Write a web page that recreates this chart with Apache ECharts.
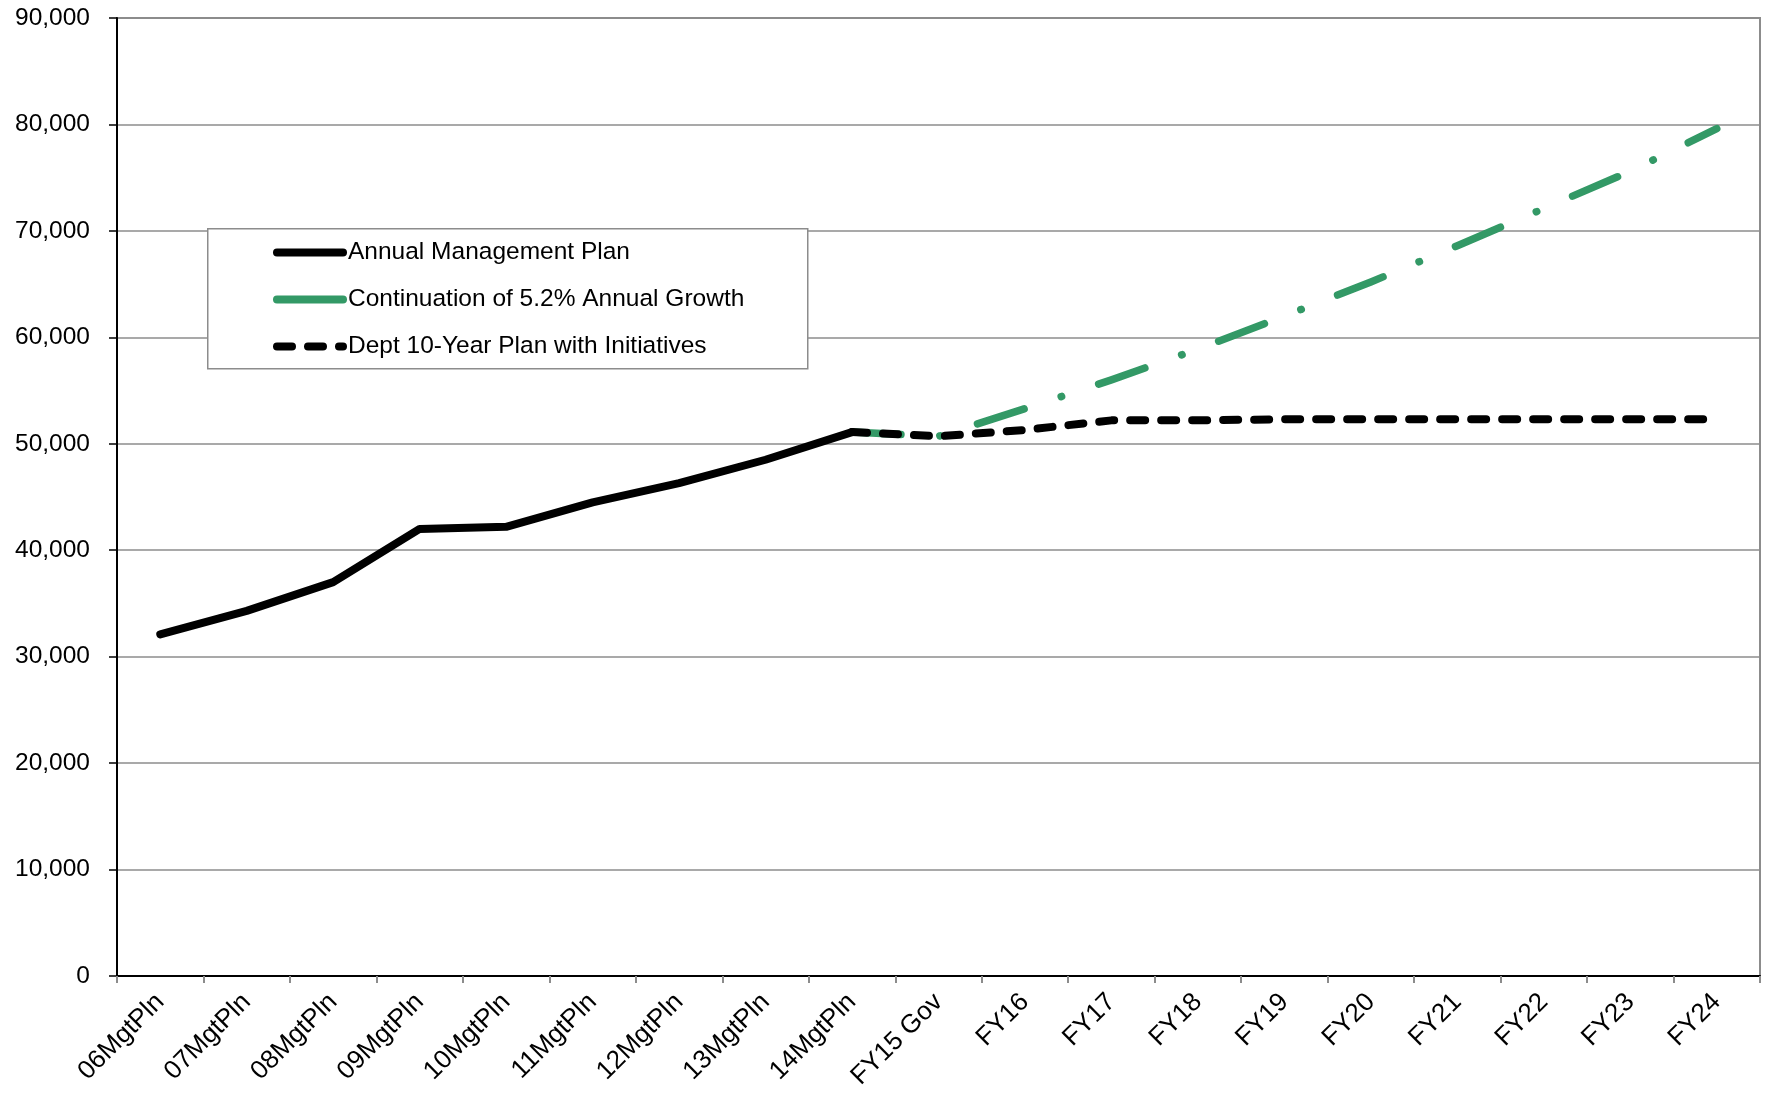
<!DOCTYPE html>
<html>
<head>
<meta charset="utf-8">
<script src="https://cdn.jsdelivr.net/npm/echarts@6/dist/echarts.min.js"></script>
<style>html,body{margin:0;padding:0;background:#fff}#c{width:1769px;height:1097px}</style>
</head>
<body>
<div id="c"></div>
<script>
const categories = ['06MgtPln','07MgtPln','08MgtPln','09MgtPln','10MgtPln','11MgtPln','12MgtPln','13MgtPln','14MgtPln','FY15 Gov','FY16','FY17','FY18','FY19','FY20','FY21','FY22','FY23','FY24'];
const annualPlan = [32100, 34300, 37000, 42000, 42200, 44500, 46300, 48500, 51100, null, null, null, null, null, null, null, null, null, null];
const growth52 = [null, null, null, null, null, null, null, null, 51100, 50700, 53300, 56000, 58900, 62000, 65200, 68600, 72100, 75600, 79600];
const deptPlan = [null, null, null, null, null, null, null, null, 51100, 50700, 51300, 52200, 52200, 52300, 52300, 52300, 52300, 52300, 52300];
const seriesNames = ['Annual Management Plan', 'Continuation of 5.2% Annual Growth', 'Dept 10-Year Plan with Initiatives'];

const FONT = 'Liberation Sans, Arial, sans-serif';
const chart = echarts.init(document.getElementById('c'), null, {renderer: 'canvas'});
const noSym = {opacity: 0, borderWidth: 0};
chart.setOption({
  animation: false,
  backgroundColor: '#fff',
  grid: {left: 117, right: 9, top: 18, bottom: 121, containLabel: false, show: true, borderColor: '#8c8c8c', borderWidth: 2, backgroundColor: 'transparent'},
  graphic: [{
    type: 'rect', left: 207, top: 228, z: 50,
    shape: {width: 600, height: 140},
    style: {fill: '#fff', stroke: '#8c8c8c', lineWidth: 1.5}
  }],
  legend: {
    orient: 'vertical', left: 273, top: 240, padding: 0, itemGap: 22,
    itemWidth: 66, itemHeight: 25, z: 60,
    textStyle: {fontFamily: FONT, fontSize: 24.5, color: '#000'},
    data: [
      {name: seriesNames[0], itemStyle: noSym, lineStyle: {type: 'solid', width: 8, cap: 'round'}},
      {name: seriesNames[1], itemStyle: noSym, lineStyle: {type: 'solid', width: 8, cap: 'round'}},
      {name: seriesNames[2], itemStyle: noSym, lineStyle: {type: [15, 16], width: 8, cap: 'round'}}
    ]
  },
  xAxis: {
    type: 'category', data: categories, boundaryGap: true,
    axisLine: {lineStyle: {color: '#000', width: 2}},
    axisTick: {show: true, alignWithLabel: false, length: 7, lineStyle: {color: '#8c8c8c', width: 2}},
    axisLabel: {rotate: 45, interval: 0, margin: 22, fontFamily: FONT, fontSize: 26, color: '#000'},
    splitLine: {show: false}
  },
  yAxis: {
    type: 'value', min: 0, max: 90000, interval: 10000,
    axisLine: {show: true, lineStyle: {color: '#000', width: 2}},
    axisTick: {show: true, inside: false, length: 8, lineStyle: {color: '#000', width: 1.5}},
    axisLabel: {margin: 27, fontFamily: FONT, fontSize: 24.5, color: '#000',
      formatter: v => v.toLocaleString('en-US')},
    splitLine: {show: true, lineStyle: {color: '#8c8c8c', width: 1.5}}
  },
  series: [
    {
      name: seriesNames[0], type: 'line', data: annualPlan, symbol: 'none', z: 3,
      lineStyle: {color: '#000', width: 8, cap: 'round', join: 'round'},
      itemStyle: {color: '#000'}
    },
    {
      name: seriesNames[1], type: 'line', data: growth52, symbol: 'none', z: 2,
      lineStyle: {color: '#339966', width: 7.5, type: [49, 39, 0.5, 39], cap: 'round', join: 'round'},
      itemStyle: {color: '#339966'}
    },
    {
      name: seriesNames[2], type: 'line', data: deptPlan, symbol: 'none', z: 4,
      lineStyle: {color: '#000', width: 8, type: [15, 16], cap: 'round', join: 'round'},
      itemStyle: {color: '#000'}
    }
  ]
});
</script>
</body>
</html>
